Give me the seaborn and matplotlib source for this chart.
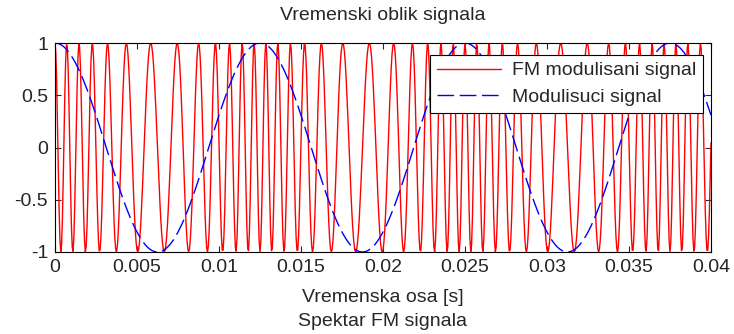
import numpy as np
import pandas as pd
import matplotlib
matplotlib.use("Agg")
import matplotlib.pyplot as plt
import seaborn as sns

# Signal parameters
fc = 1000.0        # carrier frequency [Hz]
fm = 80.0          # modulating frequency [Hz]
df = 400.0         # frequency deviation [Hz]
fs = 20000.0       # sampling rate [Hz]
t_end = 0.04

xticks = [0, 0.005, 0.01, 0.015, 0.02, 0.025, 0.03, 0.035, 0.04]
xtick_labels = ["0", "0.005", "0.01", "0.015", "0.02", "0.025", "0.03", "0.035", "0.04"]
yticks = [-1, -0.5, 0, 0.5, 1]
ytick_labels = ["-1", "-0.5", "0", "0.5", "1"]

t = np.arange(0, t_end + 1 / fs, 1 / fs)
mod = np.cos(2 * np.pi * fm * t)
fmsig = np.cos(2 * np.pi * fc * t + (df / fm) * np.sin(2 * np.pi * fm * t))

df_fm = pd.DataFrame({"t": t, "y": fmsig})
df_mod = pd.DataFrame({"t": t, "y": mod})

sns.set_style("ticks")
plt.rcParams["font.family"] = ["Liberation Sans", "DejaVu Sans"]

W, H = 734, 334
fig = plt.figure(figsize=(W / 100, H / 100), dpi=100)
ax = fig.add_axes([55 / W, 1 - 252 / H, (711 - 55) / W, (252 - 43) / H])

sns.lineplot(data=df_fm, x="t", y="y", ax=ax, color="red", linewidth=1.0,
             label="FM modulisani signal", estimator=None, sort=False)
sns.lineplot(data=df_mod, x="t", y="y", ax=ax, color="blue", linewidth=1.0,
             label="Modulisuci signal", estimator=None, sort=False)
ax.lines[1].set_dashes([12, 4])

ax.set_xlim(0, t_end)
ax.set_ylim(-1, 1)
ax.set_xticks(xticks)
ax.set_xticklabels(xtick_labels, fontsize=14)
ax.set_yticks(yticks)
ax.set_yticklabels(ytick_labels, fontsize=14)
ax.tick_params(direction="in", length=4, top=True, right=True, width=0.8, pad=5)
for s in ax.spines.values():
    s.set_visible(True)
    s.set_color("black")
    s.set_linewidth(0.8)

ax.set_title("")
ax.set_xlabel("")
ax.set_ylabel("")
fig.text(383 / W, 1 - 16 / H, "Vremenski oblik signala", ha="center", va="center", fontsize=14)
fig.text(383 / W, 1 - 297 / H, "Vremenska osa [s]", ha="center", va="center", fontsize=14)
fig.text(383 / W, 1 - 322 / H, "Spektar FM signala", ha="center", va="center", fontsize=14)

leg = ax.legend(loc="upper right", bbox_to_anchor=(703 / W, 1 - 55 / H),
                bbox_transform=fig.transFigure, borderaxespad=0,
                fontsize=14, frameon=True, fancybox=False,
                framealpha=1, edgecolor="black", handlelength=3.3,
                handletextpad=0.55, borderpad=0.35, labelspacing=0.45)
leg.get_frame().set_linewidth(0.8)

fig.savefig("out.png", dpi=100)
